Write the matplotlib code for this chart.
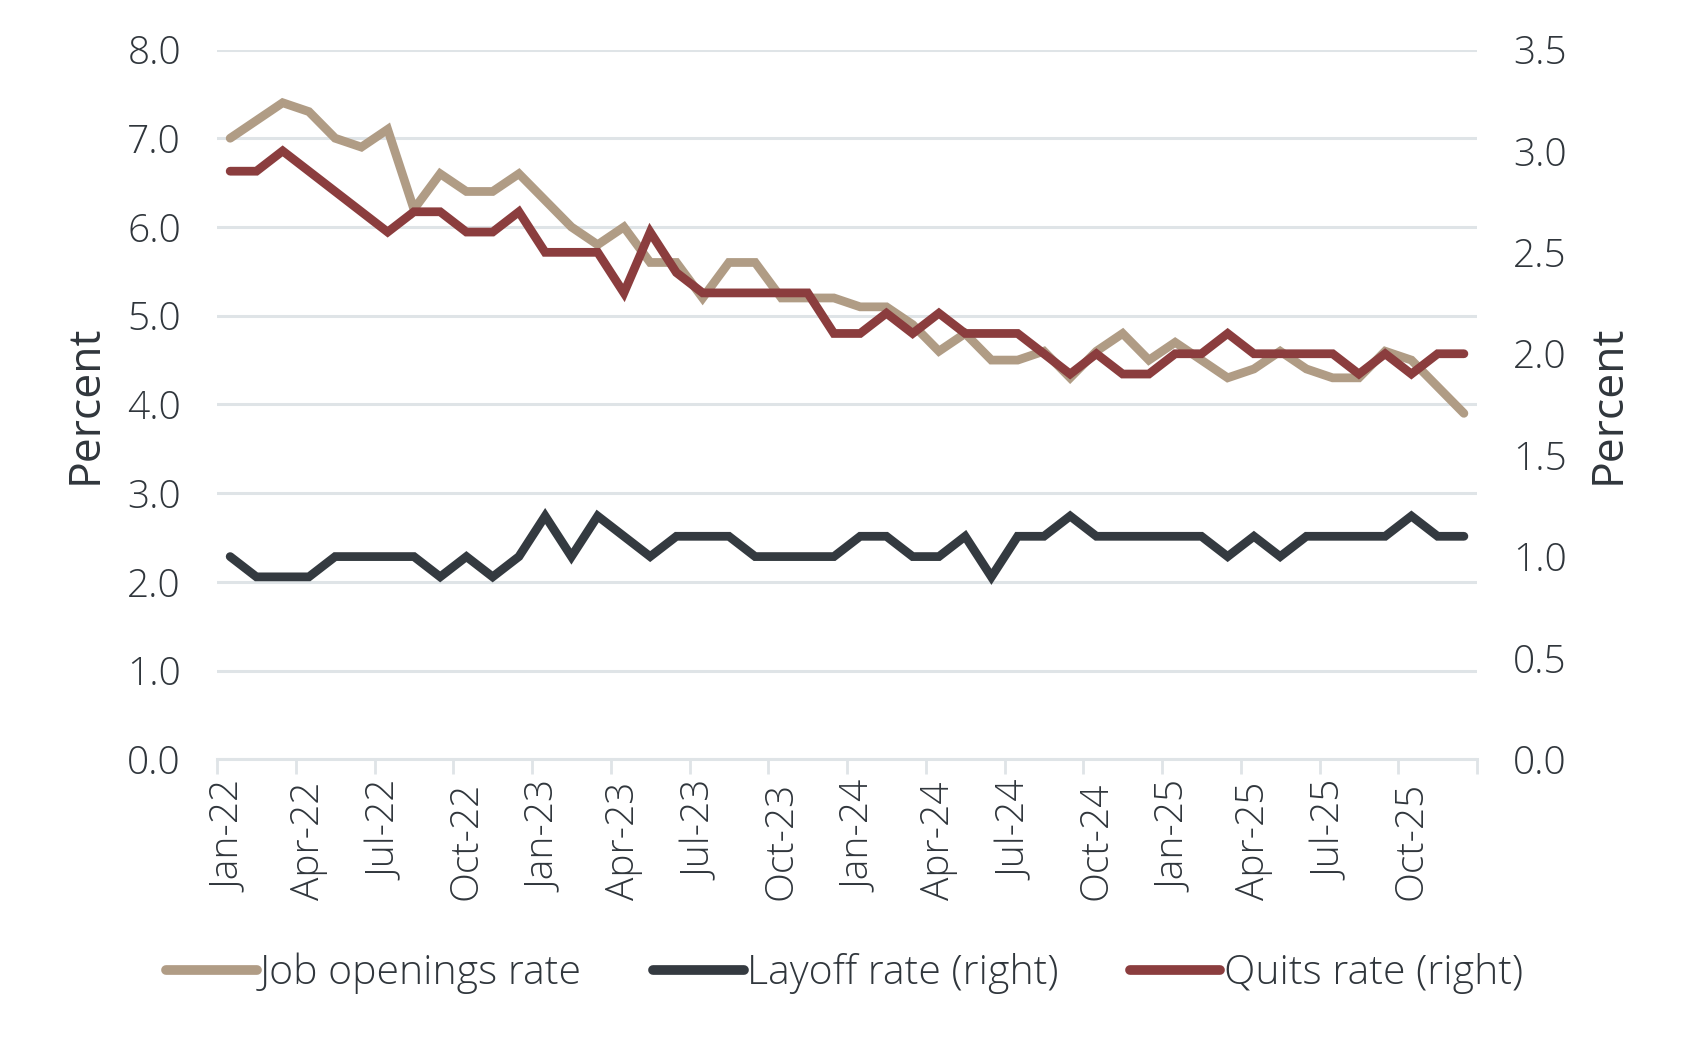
import matplotlib
matplotlib.use("Agg")
import matplotlib.pyplot as plt
import numpy as np

months = ["Jan", "Feb", "Mar", "Apr", "May", "Jun", "Jul", "Aug", "Sep", "Oct", "Nov", "Dec"]
years = ["22", "23", "24", "25"]
categories = [f"{m}-{y}" for y in years for m in months]

job_openings = [7.0, 7.2, 7.4, 7.3, 7.0, 6.9, 7.1, 6.2, 6.6, 6.4, 6.4, 6.6,
                6.3, 6.0, 5.8, 6.0, 5.6, 5.6, 5.2, 5.6, 5.6, 5.2, 5.2, 5.2,
                5.1, 5.1, 4.9, 4.6, 4.8, 4.5, 4.5, 4.6, 4.3, 4.6, 4.8, 4.5,
                4.7, 4.5, 4.3, 4.4, 4.6, 4.4, 4.3, 4.3, 4.6, 4.5, 4.2, 3.9]
layoff_rate = [1.0, 0.9, 0.9, 0.9, 1.0, 1.0, 1.0, 1.0, 0.9, 1.0, 0.9, 1.0,
               1.2, 1.0, 1.2, 1.1, 1.0, 1.1, 1.1, 1.1, 1.0, 1.0, 1.0, 1.0,
               1.1, 1.1, 1.0, 1.0, 1.1, 0.9, 1.1, 1.1, 1.2, 1.1, 1.1, 1.1,
               1.1, 1.1, 1.0, 1.1, 1.0, 1.1, 1.1, 1.1, 1.1, 1.2, 1.1, 1.1]
quits_rate = [2.9, 2.9, 3.0, 2.9, 2.8, 2.7, 2.6, 2.7, 2.7, 2.6, 2.6, 2.7,
              2.5, 2.5, 2.5, 2.3, 2.6, 2.4, 2.3, 2.3, 2.3, 2.3, 2.3, 2.1,
              2.1, 2.2, 2.1, 2.2, 2.1, 2.1, 2.1, 2.0, 1.9, 2.0, 1.9, 1.9,
              2.0, 2.0, 2.1, 2.0, 2.0, 2.0, 2.0, 1.9, 2.0, 1.9, 2.0, 2.0]

left_ticks = [0, 1, 2, 3, 4, 5, 6, 7, 8]
right_ticks = [0, 0.5, 1.0, 1.5, 2.0, 2.5, 3.0, 3.5]

C_JOB = "#b09c85"
C_LAY = "#343a40"
C_QUIT = "#8b3d3e"
C_GRID = "#dfe4e7"
C_TEXT = "#30363c"

plt.rcParams['font.family'] = ['Open Sans', 'DejaVu Sans']
plt.rcParams['font.weight'] = 'light'

fig = plt.figure(figsize=(16.89, 10.40), dpi=100)
ax = fig.add_axes([0.1285, 0.2698, 0.7460, 0.6826])
ax2 = ax.twinx()

x = np.arange(len(categories))
LW = 6.3
l1, = ax.plot(x, job_openings, color=C_JOB, lw=LW, solid_capstyle='round', solid_joinstyle='miter', zorder=3)
l2, = ax2.plot(x, layoff_rate, color=C_LAY, lw=LW, solid_capstyle='round', solid_joinstyle='miter', zorder=3)
l3, = ax2.plot(x, quits_rate, color=C_QUIT, lw=LW, solid_capstyle='round', solid_joinstyle='miter', zorder=4)

ax.set_xlim(-0.5, len(categories) - 0.5)
ax.set_ylim(0, 8)
ax2.set_ylim(0, 3.5)

ax.set_yticks(left_ticks)
ax.set_yticklabels([f"{v:.1f}" for v in left_ticks])
ax2.set_yticks(right_ticks)
ax2.set_yticklabels([f"{v:.1f}" for v in right_ticks])

ax.yaxis.grid(True, color=C_GRID, lw=2.2)
ax.set_axisbelow(True)

for a in (ax, ax2):
    for s in ("top", "left", "right", "bottom"):
        a.spines[s].set_visible(False)

ax.spines["bottom"].set_visible(True)
ax.spines["bottom"].set_color(C_GRID)
ax.spines["bottom"].set_linewidth(2.2)

label_pos = x[::3]
ax.set_xticks(label_pos)
ax.set_xticklabels([categories[i] for i in label_pos], rotation=90)
ax.set_xticks(np.arange(-0.5, len(categories), 3), minor=True)
ax.tick_params(axis='x', which='major', length=0, pad=16, labelsize=28, colors=C_TEXT)
ax.tick_params(axis='x', which='minor', length=11, width=2.0, color=C_GRID, direction='out')
ax.tick_params(axis='y', length=0, pad=26, labelsize=28, colors=C_TEXT)
ax2.tick_params(axis='y', length=0, pad=26, labelsize=28, colors=C_TEXT)

ax.set_ylabel("Percent", fontsize=32, color=C_TEXT, labelpad=14)
ax2.set_ylabel("Percent", fontsize=32, color=C_TEXT, labelpad=14)

leg = fig.legend([l1, l2, l3], ["Job openings rate", "Layoff rate (right)", "Quits rate (right)"],
                 loc='center', bbox_to_anchor=(0.5, 0.064), ncol=3, frameon=False,
                 fontsize=29.5, handlelength=2.2, handletextpad=0.08, columnspacing=1.75)
for t in leg.get_texts():
    t.set_color(C_TEXT)
for h in leg.legend_handles:
    h.set_linewidth(7)
    h.set_solid_capstyle('round')

fig.savefig("out.png", dpi=100, facecolor="white")
